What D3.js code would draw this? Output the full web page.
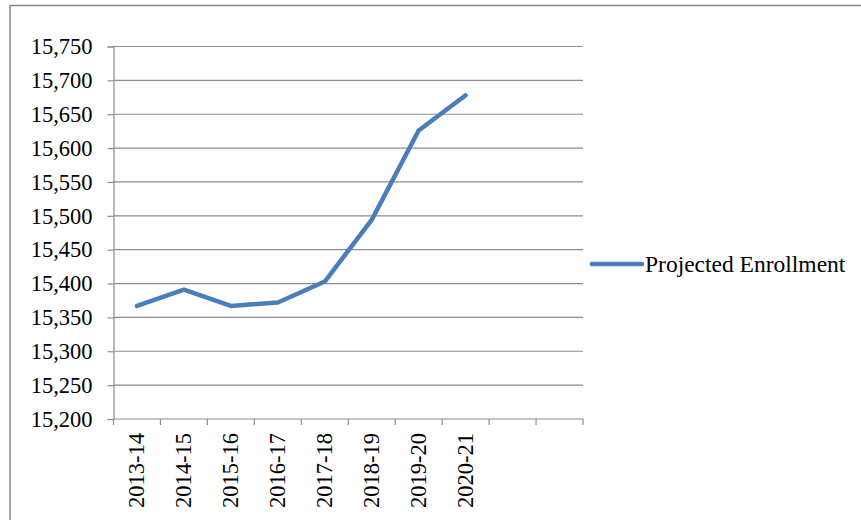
<!DOCTYPE html>
<html>
<head>
<meta charset="utf-8">
<script src="https://cdn.jsdelivr.net/npm/d3@7/dist/d3.min.js"></script>
<style>
  html, body { margin: 0; padding: 0; background: #fff; }
  svg { display: block; }
</style>
</head>
<body>
<svg id="chart" width="861" height="520"></svg>
<script>
// School years on the category axis (two trailing empty slots)
const categories = ["2013-14", "2014-15", "2015-16", "2016-17", "2017-18",
                    "2018-19", "2019-20", "2020-21", "", " "];
// Projected enrollment per year
const enrollment = [15367, 15391, 15367, 15372, 15403, 15494, 15626, 15678];
const seriesName = "Projected Enrollment";
const yTicks = [15200, 15250, 15300, 15350, 15400, 15450, 15500,
                15550, 15600, 15650, 15700, 15750];

const svg = d3.select("#chart");
const plot = { left: 113.5, right: 583, top: 46.5, bottom: 419 };
const textFont = "'Liberation Serif'";
const axisSize = "22.5px";
const legendSize = "23.5px";

// Outer frame (open at right and bottom)
svg.append("rect")
  .attr("x", 10).attr("y", 5.5)
  .attr("width", 900).attr("height", 600)
  .attr("fill", "none").attr("stroke", "#878787").attr("stroke-width", 1.5);

const x = d3.scaleBand().domain(categories).range([plot.left, plot.right]);
const y = d3.scaleLinear().domain([15200, 15750]).range([plot.bottom, plot.top]);

const fmt = d3.format(",");

// Horizontal gridlines
svg.append("g").selectAll("line").data(yTicks.filter(v => v !== 15200)).join("line")
  .attr("x1", plot.left).attr("x2", plot.right)
  .attr("y1", d => y(d)).attr("y2", d => y(d))
  .attr("stroke", "#8c8c8c").attr("stroke-width", 1.2);

// Y axis
const yAxis = svg.append("g")
  .attr("transform", `translate(${plot.left},0)`)
  .call(d3.axisLeft(y).tickValues(yTicks).tickFormat(fmt).tickSize(6).tickPadding(15));
yAxis.select(".domain").attr("stroke", "#8c8c8c").attr("stroke-width", 1.2);
yAxis.selectAll(".tick line").attr("stroke", "#8c8c8c").attr("stroke-width", 1.2);
yAxis.selectAll(".tick text")
  .style("font-family", textFont)
  .style("font-size", axisSize)
  .attr("fill", "#000");

// X axis: ticks on category boundaries
const boundaries = categories.map(c => x(c)).concat([plot.right]);
svg.append("line")
  .attr("x1", plot.left).attr("x2", plot.right)
  .attr("y1", plot.bottom).attr("y2", plot.bottom)
  .attr("stroke", "#8c8c8c").attr("stroke-width", 1.2);
svg.append("g").selectAll("line").data(boundaries).join("line")
  .attr("x1", d => d).attr("x2", d => d)
  .attr("y1", plot.bottom).attr("y2", plot.bottom + 6)
  .attr("stroke", "#8c8c8c").attr("stroke-width", 1.2);

// Rotated category labels
svg.append("g").selectAll("text").data(categories.filter(c => c.trim() !== "")).join("text")
  .attr("transform", d => `translate(${x(d) + x.bandwidth() / 2 + 7.5},${plot.bottom + 14}) rotate(-90)`)
  .attr("text-anchor", "end")
  .style("font-family", textFont)
  .style("font-size", axisSize)
  .attr("fill", "#000")
  .text(d => d);

// Series line
const line = d3.line()
  .x((d, i) => x(categories[i]) + x.bandwidth() / 2)
  .y(d => y(d));
svg.append("path")
  .datum(enrollment)
  .attr("d", line)
  .attr("fill", "none")
  .attr("stroke", "#4a7ebb")
  .attr("stroke-width", 4.5)
  .attr("stroke-linejoin", "round")
  .attr("stroke-linecap", "round");

// Legend
const legend = svg.append("g").attr("transform", "translate(592,264)");
legend.append("line")
  .attr("x1", 0).attr("x2", 50).attr("y1", 0).attr("y2", 0)
  .attr("stroke", "#4a7ebb").attr("stroke-width", 4.5).attr("stroke-linecap", "round");
legend.append("text")
  .attr("x", 53).attr("y", 8)
  .style("font-family", textFont)
  .style("font-size", legendSize)
  .attr("fill", "#000")
  .text(seriesName);
</script>
</body>
</html>
